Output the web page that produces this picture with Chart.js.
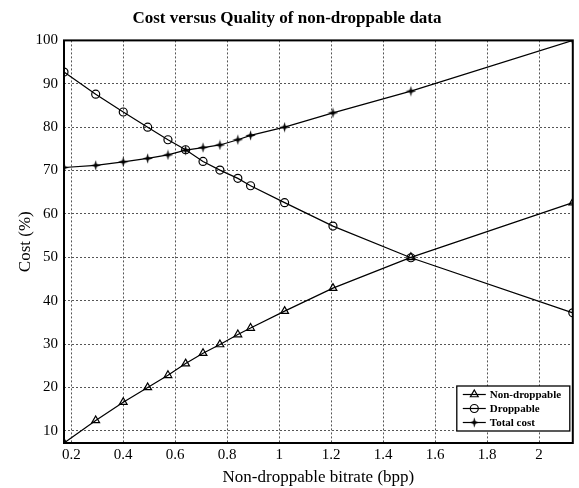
<!DOCTYPE html>
<html>
<head>
<meta charset="utf-8">
<script src="https://cdn.jsdelivr.net/npm/chart.js@4/dist/chart.umd.min.js"></script>
<style>
  html, body { margin: 0; padding: 0; background: #fff; }
  #wrap { width: 579px; height: 488px; }
</style>
</head>
<body>
<div id="wrap"><canvas id="c" width="579" height="488"></canvas></div>
<script>
const titleText = 'Cost versus Quality of non-droppable data';
const xLabel = 'Non-droppable bitrate (bpp)';
const yLabel = 'Cost (%)';
const seriesNames = ['Non-droppable', 'Droppable', 'Total cost'];

const bitrate      = [0.172, 0.294, 0.400, 0.494, 0.572, 0.640, 0.707, 0.772, 0.841, 0.890, 1.021, 1.207, 1.507, 2.130];
const nonDroppable = [7.2, 12.4, 16.6, 20.0, 22.8, 25.5, 27.9, 29.9, 32.2, 33.7, 37.6, 42.9, 50.0, 62.6];
const droppable    = [92.7, 87.6, 83.5, 80.0, 77.1, 74.8, 72.1, 70.1, 68.2, 66.5, 62.6, 57.2, 49.9, 37.2];
const totalCost    = [70.7, 71.2, 72.0, 72.8, 73.6, 74.7, 75.3, 75.9, 77.1, 78.1, 80.0, 83.3, 88.3, 100.0];

const xTicks = [0.2, 0.4, 0.6, 0.8, 1.0, 1.2, 1.4, 1.6, 1.8, 2.0];
const yTicks = [10, 20, 30, 40, 50, 60, 70, 80, 90, 100];
const xRange = [0.172, 2.13];
const yRange = [7.2, 100];

// four-point star marker
function makeStar(size) {
  const cv = document.createElement('canvas');
  cv.width = size; cv.height = size;
  const g = cv.getContext('2d');
  const c = size / 2, R = size / 2 - 0.3, r = 1.6;
  g.beginPath();
  for (let i = 0; i < 8; i++) {
    const a = -Math.PI / 2 + i * Math.PI / 4;
    const rr = (i % 2 === 0) ? R : r;
    const px = c + rr * Math.cos(a), py = c + rr * Math.sin(a);
    if (i === 0) g.moveTo(px, py); else g.lineTo(px, py);
  }
  g.closePath();
  g.fillStyle = '#000';
  g.fill();
  return cv;
}
const starImg = makeStar(11);

const zip = (xs, ys) => xs.map((x, i) => ({x: x, y: ys[i]}));

const serif = "'Liberation Serif', 'DejaVu Serif', serif";

const framePlugin = {
  id: 'frameAndLegend',
  afterDraw(chart) {
    const {ctx, chartArea: a} = chart;
    ctx.save();
    ctx.strokeStyle = '#000';
    ctx.lineWidth = 2;
    ctx.strokeRect(a.left, a.top, a.right - a.left, a.bottom - a.top);

    // legend box
    const bx = a.right - 116, by = a.bottom - 57, bw = 113, bh = 45;
    ctx.fillStyle = '#fff';
    ctx.fillRect(bx, by, bw, bh);
    ctx.lineWidth = 1.3;
    ctx.strokeStyle = '#000';
    ctx.strokeRect(bx, by, bw, bh);
    ctx.font = "bold 11px " + serif;
    ctx.textBaseline = 'middle';
    ctx.textAlign = 'left';
    chart.data.datasets.forEach((ds, i) => {
      const y = by + 8.5 + i * 14;
      ctx.strokeStyle = '#000';
      ctx.lineWidth = 1.2;
      ctx.beginPath();
      ctx.moveTo(bx + 6, y);
      ctx.lineTo(bx + 29, y);
      ctx.stroke();
      ctx.fillStyle = ds.pointBackgroundColor;
      Chart.helpers.drawPoint(ctx, {
        pointStyle: ds.pointStyle, radius: ds.pointRadius, rotation: 0,
        borderWidth: 1.2
      }, bx + 17.5, y);
      ctx.fillStyle = '#000';
      ctx.fillText(ds.label, bx + 33, y + 0.5);
    });
    ctx.restore();
  }
};

new Chart(document.getElementById('c'), {
  type: 'line',
  data: {
    datasets: [
      {
        label: seriesNames[0], data: zip(bitrate, nonDroppable),
        borderColor: '#000', borderWidth: 1.2, tension: 0, clip: 0,
        pointStyle: 'triangle', pointRadius: 4.5,
        pointBorderColor: '#000', pointBackgroundColor: 'rgba(0,0,0,0)', pointBorderWidth: 1.2
      },
      {
        label: seriesNames[1], data: zip(bitrate, droppable),
        borderColor: '#000', borderWidth: 1.2, tension: 0, clip: 0,
        pointStyle: 'circle', pointRadius: 4,
        pointBorderColor: '#000', pointBackgroundColor: 'rgba(0,0,0,0)', pointBorderWidth: 1.2
      },
      {
        label: seriesNames[2], data: zip(bitrate, totalCost),
        borderColor: '#000', borderWidth: 1.2, tension: 0, clip: 0,
        pointStyle: starImg, pointRadius: 5,
        pointBorderColor: '#000', pointBackgroundColor: '#000'
      }
    ]
  },
  options: {
    responsive: false,
    animation: false,
    devicePixelRatio: 1,
    layout: { padding: { left: 0, right: 5, top: 0, bottom: 0 } },
    plugins: {
      legend: { display: false },
      tooltip: { enabled: false },
      title: {
        display: true, text: titleText, color: '#000',
        font: { family: serif, size: 17, weight: 'bold' },
        padding: { top: 8, bottom: 12 }
      }
    },
    scales: {
      x: {
        type: 'linear', min: xRange[0], max: xRange[1],
        afterBuildTicks: s => { s.ticks = xTicks.map(v => ({value: v})); },
        afterFit: s => { s.height = 45; },
        ticks: {
          color: '#000', font: { family: serif, size: 15 }, padding: 3,
          maxRotation: 0, autoSkip: false,
          callback: v => String(v)
        },
        grid: { color: '#555', lineWidth: 1, drawTicks: false },
        border: { display: false, dash: [2, 2] },
        title: {
          display: true, text: xLabel, color: '#000',
          font: { family: serif, size: 17 }, padding: { top: 0, bottom: 0 }
        }
      },
      y: {
        type: 'linear', min: yRange[0], max: yRange[1],
        afterBuildTicks: s => { s.ticks = yTicks.map(v => ({value: v})); },
        afterFit: s => { s.width = 64; },
        ticks: {
          color: '#000', font: { family: serif, size: 15 }, padding: 6,
          autoSkip: false
        },
        grid: { color: '#555', lineWidth: 1, drawTicks: false },
        border: { display: false, dash: [2, 2] },
        title: {
          display: true, text: yLabel, color: '#000',
          font: { family: serif, size: 17 }, padding: { top: 15, bottom: 0 }
        }
      }
    }
  },
  plugins: [framePlugin]
});
</script>
</body>
</html>
